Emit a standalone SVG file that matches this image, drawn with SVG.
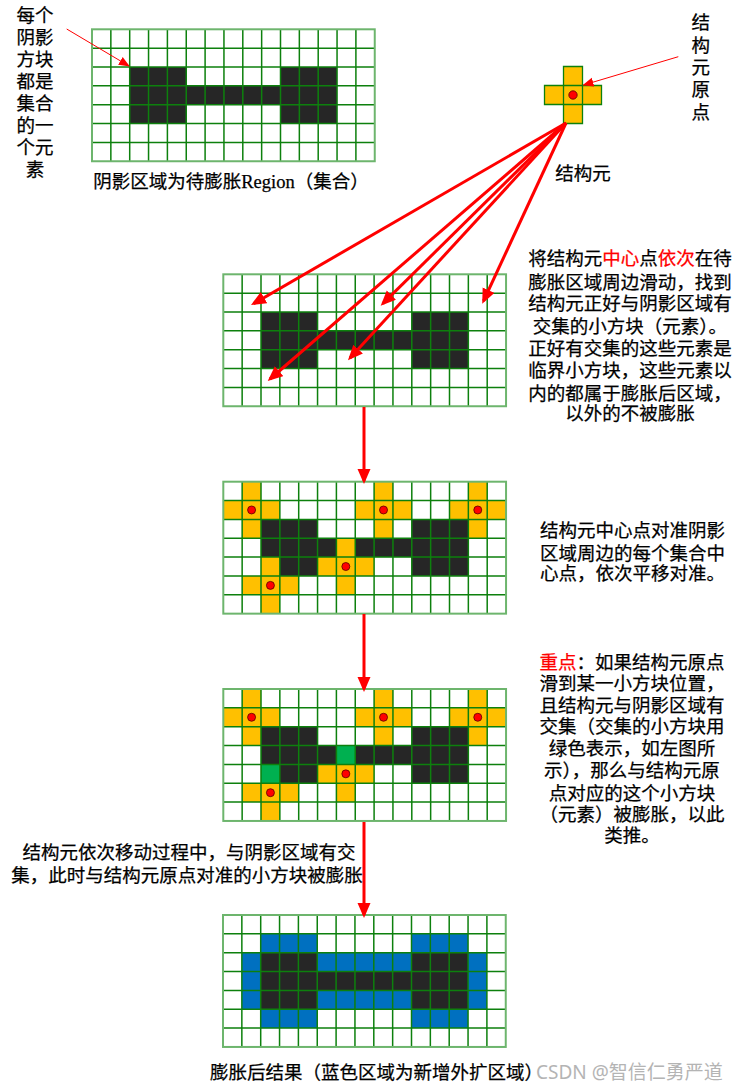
<svg xmlns="http://www.w3.org/2000/svg" xmlns:xlink="http://www.w3.org/1999/xlink" width="742" height="1090" viewBox="0 0 742 1090">
<style>
.t{font-family:"Liberation Serif","Noto Sans CJK SC",serif;font-size:18.5px;fill:#000;stroke:#000;stroke-width:0.25}
.m{text-anchor:middle}
.r{fill:#ff0000;stroke:#ff0000}
.blk{fill:#262626}
.yel{fill:#ffc000}
.grn{fill:#00b050}
.blu{fill:#0070c0}
.gl{fill:none;stroke:#0d800d;stroke-width:1.5}
.gb{fill:none;stroke:#6db56d;stroke-width:2}
.dot{fill:#ff0000;stroke:#5a0000;stroke-width:0.8}
.thick{stroke:#ff0000;stroke-width:3;fill:none}
.thin{stroke:#ff0000;stroke-width:1;fill:none}
.wm{font-family:"Noto Sans","Noto Sans CJK SC",sans-serif;font-size:19px;fill:#b4b4b4}
</style>
<defs>
<marker id="ah" markerUnits="userSpaceOnUse" markerWidth="16" markerHeight="14" refX="12" refY="6.5" orient="auto">
<path d="M0,0 L15,6.5 L0,13 z" fill="#ff0000"/>
</marker>
<marker id="ahs" markerUnits="userSpaceOnUse" markerWidth="12" markerHeight="10" refX="10" refY="4.5" orient="auto">
<path d="M0,0 L11,4.5 L0,9 z" fill="#ff0000"/>
</marker>
<g id="lines">
<path class="gl" d="M18.85,0V131.95M37.7,0V131.95M56.55,0V131.95M75.4,0V131.95M94.25,0V131.95M113.1,0V131.95M131.95,0V131.95M150.8,0V131.95M169.65,0V131.95M188.5,0V131.95M207.35,0V131.95M226.2,0V131.95M245.05,0V131.95M263.9,0V131.95M0,18.85H282.75M0,37.7H282.75M0,56.55H282.75M0,75.4H282.75M0,94.25H282.75M0,113.1H282.75"/>
<rect class="gb" x="0" y="0" width="282.75" height="131.95"/>
</g>
<g id="blob">
<rect class="blk" x="37.7" y="37.7" width="56.55" height="56.55"/>
<rect class="blk" x="188.5" y="37.7" width="56.55" height="56.55"/>
<rect class="blk" x="94.25" y="56.55" width="94.25" height="18.85"/>
</g>
<path id="cross" class="yel" d="M0,-18.85h18.85v18.85h18.85v18.85h-18.85v18.85h-18.85v-18.85h-18.85v-18.85h18.85z"/>
<g id="crosses">
<use xlink:href="#cross" transform="translate(18.85,18.85)"/>
<use xlink:href="#cross" transform="translate(150.8,18.85)"/>
<use xlink:href="#cross" transform="translate(245.05,18.85)"/>
<use xlink:href="#cross" transform="translate(113.1,75.4)"/>
<use xlink:href="#cross" transform="translate(37.7,94.25)"/>
</g>
<g id="dots">
<circle class="dot" cx="28.28" cy="28.28" r="4"/>
<circle class="dot" cx="160.23" cy="28.28" r="4"/>
<circle class="dot" cx="254.48" cy="28.28" r="4"/>
<circle class="dot" cx="122.53" cy="84.83" r="4"/>
<circle class="dot" cx="47.13" cy="103.68" r="4"/>
</g>
</defs>
<rect width="742" height="1090" fill="#fff"/>

<g id="grid1" transform="translate(92,29.3)">
<use xlink:href="#blob"/>
<use xlink:href="#lines"/>
</g>

<g id="struct-elem">
<path d="M563.5,66.5h19v19h19v19h-19v19h-19v-19h-19v-19h19z" fill="#ffc000" stroke="#0d800d" stroke-width="1.3"/>
<path d="M563.5,85.5v19M582.5,85.5v19M563.5,85.5h19M563.5,104.5h19" stroke="#0d800d" stroke-width="1.3" fill="none"/>
<circle class="dot" cx="573" cy="95" r="4.2"/>
</g>

<g id="grid2" transform="translate(223.3,274.3)">
<use xlink:href="#blob"/>
<use xlink:href="#lines"/>
</g>

<g id="grid3" transform="translate(223.3,481.7)">
<use xlink:href="#blob"/>
<use xlink:href="#crosses"/>
<use xlink:href="#lines"/>
<use xlink:href="#dots"/>
</g>

<g id="grid4" transform="translate(223.3,689)">
<use xlink:href="#blob"/>
<use xlink:href="#crosses"/>
<rect class="grn" x="113.1" y="56.55" width="18.85" height="18.85"/>
<rect class="grn" x="37.7" y="75.4" width="18.85" height="18.85"/>
<use xlink:href="#lines"/>
<use xlink:href="#dots"/>
</g>

<g id="grid5" transform="translate(223,915)">
<use xlink:href="#blob"/>
<rect class="blu" x="37.7" y="18.85" width="56.55" height="18.85"/>
<rect class="blu" x="188.5" y="18.85" width="56.55" height="18.85"/>
<rect class="blu" x="18.85" y="37.7" width="18.85" height="56.55"/>
<rect class="blu" x="245.05" y="37.7" width="18.85" height="56.55"/>
<rect class="blu" x="94.25" y="37.7" width="94.25" height="18.85"/>
<rect class="blu" x="94.25" y="75.4" width="94.25" height="18.85"/>
<rect class="blu" x="37.7" y="94.25" width="56.55" height="18.85"/>
<rect class="blu" x="188.5" y="94.25" width="56.55" height="18.85"/>
<use xlink:href="#lines"/>
</g>

<g id="connectors">
<line class="thin" x1="66.7" y1="29" x2="129" y2="66" marker-end="url(#ahs)"/>
<line class="thin" x1="678.3" y1="56.7" x2="583.5" y2="85" marker-end="url(#ahs)"/>
<line class="thick" x1="566" y1="123" x2="253.6" y2="303.6" marker-end="url(#ah)"/>
<line class="thick" x1="566" y1="123" x2="382.8" y2="303.6" marker-end="url(#ah)"/>
<line class="thick" x1="566" y1="123" x2="483.5" y2="301" marker-end="url(#ah)"/>
<line class="thick" x1="566" y1="123" x2="350" y2="358" marker-end="url(#ah)"/>
<line class="thick" x1="566" y1="123" x2="270" y2="379" marker-end="url(#ah)"/>
<line class="thick" x1="364" y1="407" x2="364" y2="481" marker-end="url(#ah)"/>
<line class="thick" x1="364" y1="614" x2="364" y2="689" marker-end="url(#ah)"/>
<line class="thick" x1="364" y1="822" x2="364" y2="915" marker-end="url(#ah)"/>
</g>

<g id="labels">
<text class="t m" x="35" y="22">每个</text>
<text class="t m" x="35" y="44">阴影</text>
<text class="t m" x="35" y="66">方块</text>
<text class="t m" x="35" y="88">都是</text>
<text class="t m" x="35" y="110">集合</text>
<text class="t m" x="35" y="132">的一</text>
<text class="t m" x="35" y="154">个元</text>
<text class="t m" x="35" y="176">素</text>

<text class="t m" x="231" y="188">阴影区域为待膨胀Region（集合）</text>

<text class="t m" x="700.7" y="29">结</text>
<text class="t m" x="700.7" y="52">构</text>
<text class="t m" x="700.7" y="74">元</text>
<text class="t m" x="700.7" y="96">原</text>
<text class="t m" x="700.7" y="119">点</text>
<text class="t m" x="583" y="180">结构元</text>

<text class="t m" x="630" y="265">将结构元<tspan class="r">中心</tspan>点<tspan class="r">依次</tspan>在待</text>
<text class="t m" x="630" y="288.5">膨胀区域周边滑动，找到</text>
<text class="t m" x="630" y="310">结构元正好与阴影区域有</text>
<text class="t m" x="630" y="333">交集的小方块（元素）。</text>
<text class="t m" x="630" y="355">正好有交集的这些元素是</text>
<text class="t m" x="630" y="377">临界小方块，这些元素以</text>
<text class="t m" x="630" y="399.5">内的都属于膨胀后区域，</text>
<text class="t m" x="630" y="420">以外的不被膨胀</text>

<text class="t" x="540" y="537">结构元中心点对准阴影</text>
<text class="t" x="540" y="559.7">区域周边的每个集合中</text>
<text class="t" x="540" y="580.3">心点，依次平移对准。</text>

<text class="t m" x="632" y="668.7"><tspan class="r">重点</tspan>：如果结构元原点</text>
<text class="t m" x="632" y="690.3">滑到某一小方块位置，</text>
<text class="t m" x="632" y="712">且结构元与阴影区域有</text>
<text class="t m" x="632" y="733">交集（交集的小方块用</text>
<text class="t m" x="632" y="755.3">绿色表示，如左图所</text>
<text class="t m" x="632" y="777">示），那么与结构元原</text>
<text class="t m" x="632" y="799.7">点对应的这个小方块</text>
<text class="t m" x="632" y="821">（元素）被膨胀，以此</text>
<text class="t m" x="632" y="842">类推。</text>

<text class="t m" x="189" y="858.7">结构元依次移动过程中，与阴影区域有交</text>
<text class="t m" x="187" y="882">集，此时与结构元原点对准的小方块被膨胀</text>

<text class="t" x="210" y="1079">膨胀后结果（蓝色区域为新增外扩区域）</text>
<text class="wm" x="536" y="1079">CSDN @智信仁勇严道</text>
</g>
</svg>
